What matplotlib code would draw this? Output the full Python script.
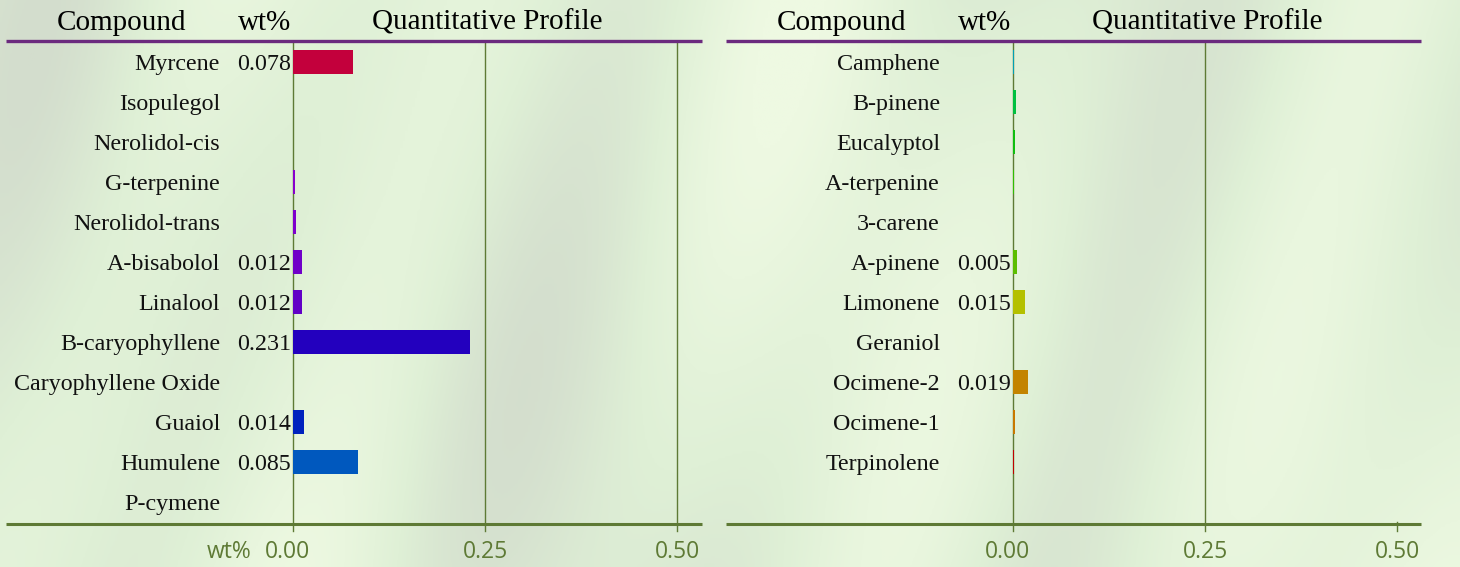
import numpy as np
import matplotlib
matplotlib.use("Agg")
import matplotlib.pyplot as plt
from matplotlib.colors import LinearSegmentedColormap

# ---------------- data ----------------
left_compounds = ["Myrcene", "Isopulegol", "Nerolidol-cis", "G-terpenine", "Nerolidol-trans",
                  "A-bisabolol", "Linalool", "B-caryophyllene", "Caryophyllene Oxide",
                  "Guaiol", "Humulene", "P-cymene"]
left_values = [0.078, 0.0, 0.0, 0.002, 0.004, 0.012, 0.012, 0.231, 0.0, 0.014, 0.085, 0.0]
left_colors = ["#C3003C", "#8A00C8", "#8A00C8", "#8800CC", "#7E00CC", "#7000C8", "#6200C6",
               "#2300BE", "#1000BE", "#0022BE", "#0058BE", "#0070BE"]

right_compounds = ["Camphene", "B-pinene", "Eucalyptol", "A-terpenine", "3-carene", "A-pinene",
                   "Limonene", "Geraniol", "Ocimene-2", "Ocimene-1", "Terpinolene"]
right_values = [0.001, 0.004, 0.002, 0.001, 0.0, 0.005, 0.015, 0.0, 0.019, 0.002, 0.001]
right_colors = ["#00A0B4", "#00C040", "#10BE10", "#30BE00", "#44BE00", "#5CBE00", "#B4C000",
                "#C8A000", "#C38400", "#C87800", "#C00000"]

ticks = [0.0, 0.25, 0.5]
tick_labels = ["0.00", "0.25", "0.50"]
headers = ["Compound", "wt%", "Quantitative Profile"]

# ---------------- style ----------------
W, H = 1460, 567
fig = plt.figure(figsize=(W / 100, H / 100), dpi=100)

# background
bg = fig.add_axes([0, 0, 1, 1])
xx = np.linspace(0, 1, 600)
yy = np.linspace(0, 1, 240)
X, Y = np.meshgrid(xx, yy)
Z = (0.5 + 0.25 * np.sin(X * 17 + 1.3) + 0.2 * np.sin(X * 31 + Y * 4 + 0.5)
     + 0.15 * np.cos(X * 7 - Y * 3))
cmap = LinearSegmentedColormap.from_list("bg", ["#EEF9E2", "#DFF0D6", "#D3DDCD"])
bg.imshow(Z, cmap=cmap, aspect="auto", extent=[0, 1, 0, 1], vmin=0, vmax=1.1)
bg.set_axis_off()

SCALE = 768.0  # px per unit
olive = "#5E7A35"
purple = "#6B2A7E"
serif = ["Liberation Serif", "DejaVu Serif"]
sans = ["Open Sans", "DejaVu Sans"]
ROW = 40.0
DY = 0.06  # small downward text offset (rows)


def panel(left_px, right_px, zero_px, names, vals, cols, show_last_grid, show_wt):
    top_px, bot_px = 41, 524
    ax = fig.add_axes([left_px / W, 1 - bot_px / H, (right_px - left_px) / W, (bot_px - top_px) / H])
    ax.patch.set_alpha(0)
    x0 = (left_px - zero_px) / SCALE
    x1 = (right_px - zero_px) / SCALE
    ax.set_xlim(x0, x1)
    n = 12
    ax.set_ylim(n - 1 + (bot_px - 502) / ROW, -(62 - top_px) / ROW)
    for s in ax.spines.values():
        s.set_visible(False)
    ax.set_xticks([])
    ax.set_yticks([])

    # gridlines
    glines = ticks if show_last_grid else ticks[:2]
    y_top = -(62 - top_px) / ROW
    y_bot = n - 1 + (531 - 502) / ROW
    for t in glines:
        ax.plot([t, t], [y_top, y_bot], color=olive, lw=1.0, clip_on=False, zorder=1)
    if not show_last_grid:
        ax.plot([ticks[2], ticks[2]], [n - 1 + (522 - 502) / ROW, y_bot], color=olive, lw=1.0,
                clip_on=False, zorder=1)

    # bars
    idx = np.arange(len(names))
    ax.barh(idx, vals, height=0.62, color=cols, zorder=3)

    # labels
    for i, (nm, v) in enumerate(zip(names, vals)):
        ax.text((220 - 293) / SCALE, i + DY, nm, ha="right", va="center", fontsize=17.3,
                family=serif, color="#111111")
        if v >= 0.005:
            ax.text(-0.0026, i + DY, f"{v:.3f}", ha="right", va="center", fontsize=17.3,
                    family=serif, color="#111111")

    # header
    yh = -(62 - 23) / ROW
    ax.text((122 - 293) / SCALE, yh, headers[0], ha="center", va="center", fontsize=21,
            family=serif, clip_on=False)
    ax.text((265 - 293) / SCALE, yh, headers[1], ha="center", va="center", fontsize=21,
            family=serif, clip_on=False)
    ax.text((487 - 293) / SCALE, yh, headers[2], ha="center", va="center", fontsize=21,
            family=serif, clip_on=False)

    # header line / baseline
    ax.plot([x0, x1], [y_top, y_top], color=purple, lw=2.4, clip_on=False, zorder=4,
            solid_capstyle="butt")
    yb = n - 1 + (bot_px - 502) / ROW
    ax.plot([x0, x1], [yb, yb], color=olive, lw=2.2, clip_on=False, zorder=4,
            solid_capstyle="butt")

    # tick labels
    yt = n - 1 + (552 - 502) / ROW
    for t, lab in zip(ticks, tick_labels):
        ax.text(t - 6 / SCALE if t == 0 else t, yt, lab, ha="center", va="center", fontsize=16.5,
                family=sans, color=olive, clip_on=False)
    if show_wt:
        ax.text((251 - 293) / SCALE, yt, "wt%", ha="right", va="center", fontsize=16.5,
                family=sans, color=olive, clip_on=False)
    return ax


panel(6, 702, 293, left_compounds, left_values, left_colors, True, True)
panel(726, 1421, 1013, right_compounds, right_values, right_colors, False, False)

fig.savefig("out.png", dpi=100)
